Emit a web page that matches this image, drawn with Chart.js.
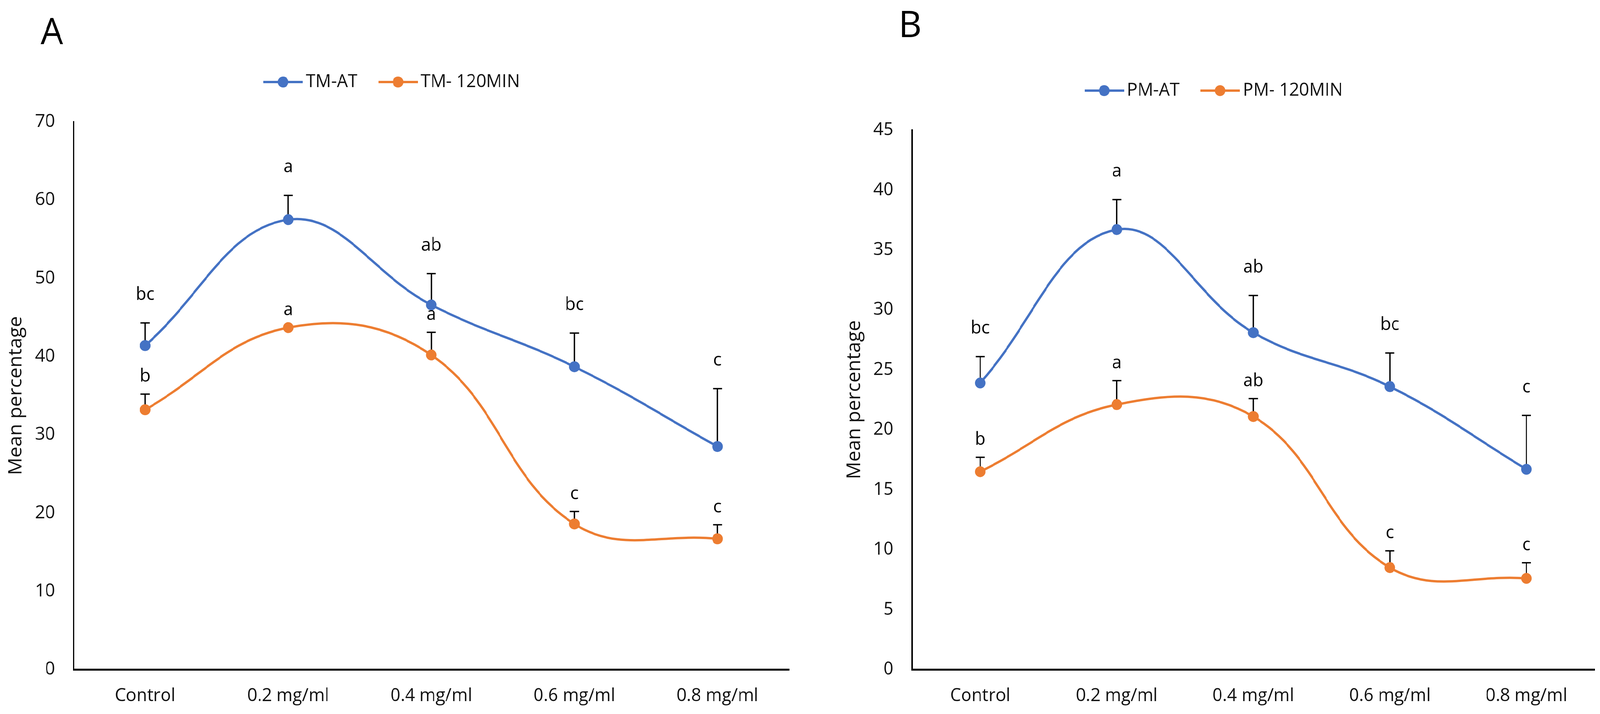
<!DOCTYPE html>
<html>
<head>
<meta charset="utf-8">
<script src="https://cdn.jsdelivr.net/npm/chart.js@4"></script>
<style>
  html, body { margin: 0; background: #fff; overflow: hidden; }
  #wrap { position: relative; width: 4216px; height: 1828px; transform-origin: 0 0; }
  canvas { position: absolute; top: 0; }
  #chartA { left: 0; }
  #chartB { left: 2209px; }
</style>
</head>
<body>
<div id="wrap">
  <canvas id="chartA" width="2108" height="1828"></canvas>
  <canvas id="chartB" width="2007" height="1828"></canvas>
</div>
<script>
const labels = ['Control', '0.2 mg/ml', '0.4 mg/ml', '0.6 mg/ml', '0.8 mg/ml'];

// panel A
const tmAT = [41.4, 57.5, 46.6, 38.7, 28.5];
const tmATErr = [2.9, 3.1, 4.0, 4.3, 7.4];
const tmATSig = ['bc', 'a', 'ab', 'bc', 'c'];
const tm120 = [33.2, 43.7, 40.2, 18.6, 16.7];
const tm120Err = [2.0, 0, 2.9, 1.6, 1.8];
const tm120Sig = ['b', 'a', 'a', 'c', 'c'];
const yMaxA = 70;
const yStepA = 10;

// panel B
const pmAT = [23.9, 36.7, 28.1, 23.6, 16.7];
const pmATErr = [2.2, 2.5, 3.1, 2.8, 4.5];
const pmATSig = ['bc', 'a', 'ab', 'bc', 'c'];
const pm120 = [16.5, 22.1, 21.1, 8.5, 7.6];
const pm120Err = [1.2, 2.0, 1.5, 1.4, 1.3];
const pm120Sig = ['b', 'a', 'ab', 'c', 'c'];
const yMaxB = 45;
const yStepB = 5;

const BLUE = '#4472C4';
const ORANGE = '#ED7D31';
const TEXT = '#111';

// the page is laid out for 4216x1828, squeeze it if the viewport is smaller
const wrap = document.getElementById('wrap');
wrap.style.transform = 'scale(' + (window.innerWidth / 4216) + ',' + (window.innerHeight / 1828) + ')';

Chart.defaults.font.family = '"Open Sans", sans-serif';
Chart.defaults.color = TEXT;

// line + dot legend symbol like Excel
function legendIcon(color) {
    const c = document.createElement('canvas');
    c.width = 104;
    c.height = 32;
    const g = c.getContext('2d');
    g.strokeStyle = color;
    g.lineWidth = 6;
    g.beginPath();
    g.moveTo(0, 16);
    g.lineTo(104, 16);
    g.stroke();
    g.fillStyle = color;
    g.beginPath();
    g.arc(52, 16, 14, 0, Math.PI * 2);
    g.fill();
    return c;
}

const errorBars = {
    id: 'errorBars',
    beforeDatasetsDraw(chart) {
        const ctx = chart.ctx;
        const y = chart.scales.y;
        chart.data.datasets.forEach((ds, i) => {
            chart.getDatasetMeta(i).data.forEach((pt, j) => {
                const err = ds.err[j];
                if (!err) return;
                const top = y.getPixelForValue(ds.data[j] + err);
                ctx.save();
                ctx.strokeStyle = '#000';
                ctx.lineWidth = 3.5;
                ctx.beginPath();
                ctx.moveTo(pt.x, pt.y);
                ctx.lineTo(pt.x, top);
                ctx.moveTo(pt.x - 12, top);
                ctx.lineTo(pt.x + 12, top);
                ctx.stroke();
                ctx.restore();
            });
        });
    },
    afterDatasetsDraw(chart) {
        const ctx = chart.ctx;
        const y = chart.scales.y;
        ctx.save();
        ctx.fillStyle = '#000';
        ctx.font = '46px "Open Sans"';
        ctx.textAlign = 'center';
        ctx.textBaseline = 'middle';
        chart.data.datasets.forEach((ds, i) => {
            chart.getDatasetMeta(i).data.forEach((pt, j) => {
                const top = y.getPixelForValue(ds.data[j] + ds.err[j]);
                ctx.fillText(ds.sig[j], pt.x, top - ds.sigGap);
            });
        });
        ctx.restore();
    }
};

const panelLetter = {
    id: 'panelLetter',
    afterDraw(chart, args, opts) {
        const ctx = chart.ctx;
        ctx.save();
        ctx.fillStyle = '#000';
        ctx.font = '94px "Open Sans"';
        ctx.textAlign = 'left';
        ctx.textBaseline = 'alphabetic';
        ctx.fillText(opts.text, opts.x, opts.y);
        ctx.restore();
    }
};

function series(label, values, err, sig, color, sigGap) {
    return {
        label: label,
        data: values,
        err: err,
        sig: sig,
        sigGap: sigGap,
        borderColor: color,
        backgroundColor: color,
        pointBackgroundColor: color,
        borderWidth: 6,
        pointRadius: 14,
        pointBorderWidth: 0,
        tension: 0.4
    };
}

function makeConfig(sets, yMax, yStep, pad, spacer, letter) {
    return {
        type: 'line',
        data: { labels: labels, datasets: sets },
        plugins: [errorBars, panelLetter],
        options: {
            responsive: false,
            devicePixelRatio: 1,
            animation: false,
            events: [],
            layout: { padding: pad },
            scales: {
                x: {
                    offset: true,
                    grid: { display: false, drawTicks: false },
                    border: { display: true, color: '#000', width: 5 },
                    ticks: { font: { size: 46 }, color: TEXT, padding: 40, maxRotation: 0, autoSkip: false },
                    afterFit(s) { s.height = 114; }
                },
                y: {
                    min: 0,
                    max: yMax,
                    grid: { display: false, drawTicks: false },
                    border: { display: true, color: '#000', width: 4 },
                    ticks: { stepSize: yStep, font: { size: 46 }, color: TEXT, padding: 49 },
                    title: {
                        display: true,
                        text: 'Mean percentage',
                        font: { size: 50 },
                        color: TEXT,
                        padding: { top: 13, bottom: 0 }
                    },
                    afterFit(s) { s.width = 194; }
                }
            },
            plugins: {
                tooltip: { enabled: false },
                legend: {
                    position: 'top',
                    labels: {
                        usePointStyle: true,
                        pointStyleWidth: 74,
                        padding: 70,
                        color: TEXT,
                        font: { size: 46 },
                        generateLabels(chart) {
                            const items = Chart.defaults.plugins.legend.labels.generateLabels(chart);
                            items.forEach((it, i) => {
                                it.pointStyle = legendIcon(chart.data.datasets[i].borderColor);
                            });
                            return items;
                        }
                    }
                },
                // empty spacer between legend and plot
                subtitle: {
                    display: true,
                    text: '',
                    weight: 500,
                    font: { size: 1, lineHeight: 1 },
                    padding: { top: 0, bottom: spacer }
                },
                panelLetter: letter
            }
        }
    };
}

const chartA = new Chart(
    document.getElementById('chartA'),
    makeConfig(
        [series('TM-AT', tmAT, tmATErr, tmATSig, BLUE, 72),
         series('TM- 120MIN', tm120, tm120Err, tm120Sig, ORANGE, 45)],
        yMaxA, yStepA,
        { top: 117, left: 0, right: 29, bottom: 0 },
        68,
        { text: 'A', x: 107, y: 113 }
    )
);

const chartB = new Chart(
    document.getElementById('chartB'),
    makeConfig(
        [series('PM-AT', pmAT, pmATErr, pmATSig, BLUE, 72),
         series('PM- 120MIN', pm120, pm120Err, pm120Sig, ORANGE, 45)],
        yMaxB, yStepB,
        { top: 139, left: 0, right: 14, bottom: 0 },
        67,
        { text: 'B', x: 159, y: 95 }
    )
);
</script>
</body>
</html>
